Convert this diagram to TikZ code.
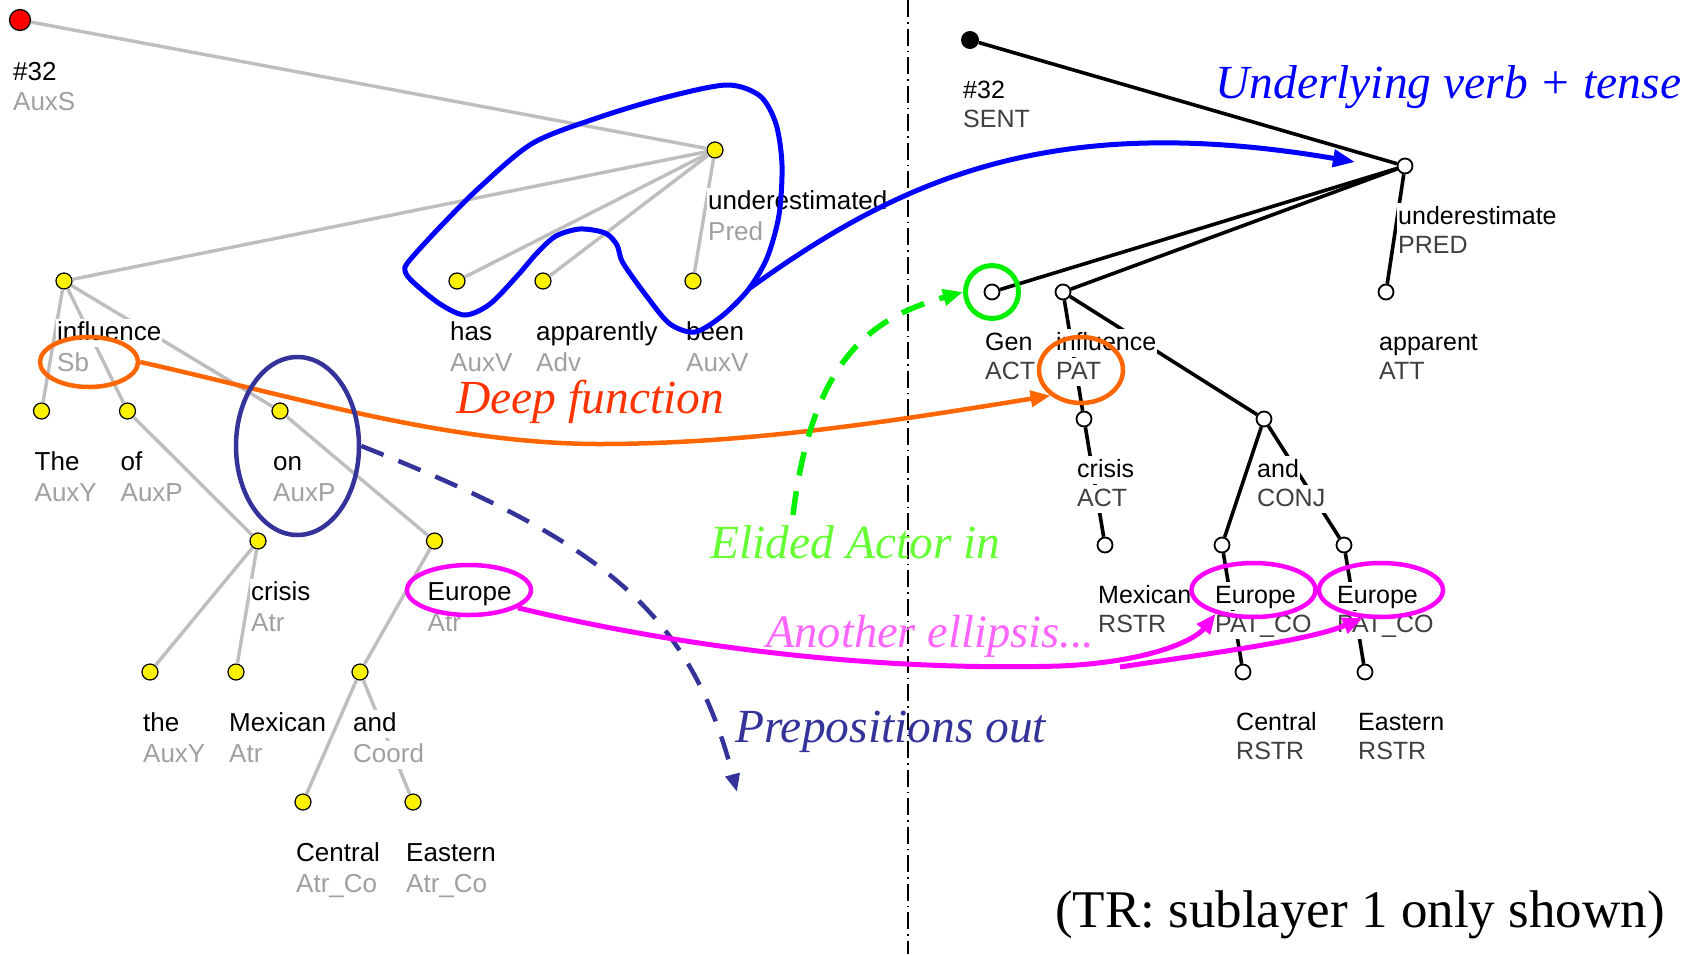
\documentclass[tikz,border=0pt]{standalone}
\usepackage{fontspec}
\setmainfont{Liberation Serif}
\newfontfamily\labfont{Liberation Sans}
\usetikzlibrary{arrows.meta,shapes.geometric}
\definecolor{edgegray}{HTML}{BEBEBE}
\definecolor{lfungray}{HTML}{A0A0A0}
\definecolor{rfungray}{HTML}{404040}
\definecolor{blueA}{HTML}{0000FF}
\definecolor{orangeA}{HTML}{FF6600}
\definecolor{orangeT}{HTML}{FF3300}
\definecolor{greenA}{HTML}{00F000}
\definecolor{greenT}{HTML}{66FF33}
\definecolor{navyA}{HTML}{333399}
\definecolor{pinkA}{HTML}{FF00FF}
\definecolor{pinkT}{HTML}{FF66FF}
\newcommand\leftlab[3]{%
  \node[lword] (#1-w) at ([shift={(-8,59)}]#1.center) {#2};
  \node[lfunc] (#1-f) at ([shift={(-8,90)}]#1.center) {#3};}
\newcommand\rightlab[3]{%
  \node[rword] (#1-w) at ([shift={(-8,58)}]#1.center) {#2};
  \node[rfunc] (#1-f) at ([shift={(-8,87)}]#1.center) {#3};}
\begin{document}
\begin{tikzpicture}[x=1pt,y=-1pt,
  ynode/.style={circle,draw=black,fill=yellow,minimum size=16pt,inner sep=0pt,line width=1.2pt},
  rootnode/.style={circle,draw=black,fill=red,minimum size=21pt,inner sep=0pt,line width=1.2pt},
  wnode/.style={circle,draw=black,fill=white,minimum size=15pt,inner sep=0pt,line width=1.8pt},
  bnode/.style={circle,fill=black,minimum size=18pt,inner sep=0pt},
  ledge/.style={draw=edgegray,line width=3.4pt},
  redge/.style={draw=black,line width=3.6pt},
  lab/.style={anchor=base west,fill=white,inner xsep=1pt,inner ysep=2pt,text height=19pt,text depth=5pt},
  lword/.style={lab,font={\labfont\fontsize{26pt}{26pt}\selectfont},text=black},
  lfunc/.style={lab,font={\labfont\fontsize{26pt}{26pt}\selectfont},text=lfungray},
  rword/.style={lab,font={\labfont\fontsize{25pt}{25pt}\selectfont},text=black},
  rfunc/.style={lab,font={\labfont\fontsize{25pt}{25pt}\selectfont},text=rfungray},
  anno/.style={anchor=base west,inner sep=0pt,font={\itshape\fontsize{47.5pt}{48pt}\selectfont}},
  ring/.style={ellipse,inner sep=0pt,line width=4.5pt},
  bigtip/.style={-{Triangle[length=20pt,width=16pt]}},
]
\useasboundingbox (0,0) rectangle (1698,954);
\fill[white] (0,0) rectangle (1698,954);

% divider
\coordinate (divtop) at (908,0);
\coordinate (divbot) at (908,954);
\draw[line width=1.5pt,dash pattern=on 17pt off 5pt on 1.5pt off 5pt] (divtop) -- (divbot);

% ---------- left (analytical) tree nodes ----------
\node[rootnode] (Lroot) at (20,20) {};
\node[ynode] (Lpred) at (715,150) {};
\node[ynode] (Linfl) at (64,281) {};
\node[ynode] (Lhas) at (457,281) {};
\node[ynode] (Lapp) at (543,281) {};
\node[ynode] (Lbeen) at (693,281) {};
\node[ynode] (LThe) at (41.5,411) {};
\node[ynode] (Lof) at (127.5,411) {};
\node[ynode] (Lon) at (280,411) {};
\node[ynode] (Lcrisis) at (258,541) {};
\node[ynode] (Leur) at (434.5,541) {};
\node[ynode] (Lthe) at (150,672) {};
\node[ynode] (Lmex) at (236,672) {};
\node[ynode] (Land) at (360,672) {};
\node[ynode] (Lcen) at (303,802) {};
\node[ynode] (Least) at (413,802) {};

% ---------- right (tectogrammatical) tree nodes ----------
\node[bnode] (Rroot) at (970,40) {};
\node[wnode] (Rpred) at (1405,166) {};
\node[wnode] (Rgen) at (992,292) {};
\node[wnode] (Rinfl) at (1063,292) {};
\node[wnode] (Rapp) at (1386,292) {};
\node[wnode] (Rcrisis) at (1084,419) {};
\node[wnode] (Rand) at (1264,419) {};
\node[wnode] (Rmex) at (1105,545) {};
\node[wnode] (Reur1) at (1222,545) {};
\node[wnode] (Reur2) at (1344,545) {};
\node[wnode] (Rcen) at (1243,672) {};
\node[wnode] (Reast) at (1365,672) {};

% ---------- edges ----------
\draw[ledge] (Lroot) -- (Lpred);
\draw[ledge] (Lpred) -- (Linfl);
\draw[ledge] (Lpred) -- (Lhas);
\draw[ledge] (Lpred) -- (Lapp);
\draw[ledge] (Lpred) -- (Lbeen);
\draw[ledge] (Linfl) -- (LThe);
\draw[ledge] (Linfl) -- (Lof);
\draw[ledge] (Linfl) -- (Lon);
\draw[ledge] (Lof) -- (Lcrisis);
\draw[ledge] (Lon) -- (Leur);
\draw[ledge] (Lcrisis) -- (Lthe);
\draw[ledge] (Lcrisis) -- (Lmex);
\draw[ledge] (Leur) -- (Land);
\draw[ledge] (Land) -- (Lcen);
\draw[ledge] (Land) -- (Least);

\draw[redge] (Rroot) -- (Rpred);
\draw[redge] (Rpred) -- (Rgen);
\draw[redge] (Rpred) -- (Rinfl);
\draw[redge] (Rpred) -- (Rapp);
\draw[redge] (Rinfl) -- (Rcrisis);
\draw[redge] (Rinfl) -- (Rand);
\draw[redge] (Rcrisis) -- (Rmex);
\draw[redge] (Rand) -- (Reur1);
\draw[redge] (Rand) -- (Reur2);
\draw[redge] (Reur1) -- (Rcen);
\draw[redge] (Reur2) -- (Reast);

% ---------- labels ----------
\node[lword] (Lroot-w) at ([shift={(-8,60)}]Lroot.center) {\#32};
\node[lfunc] (Lroot-f) at ([shift={(-8,90)}]Lroot.center) {AuxS};
\leftlab{Lpred}{underestimated}{Pred}
\leftlab{Linfl}{influence}{Sb}
\leftlab{Lhas}{has}{AuxV}
\leftlab{Lapp}{apparently}{Adv}
\leftlab{Lbeen}{been}{AuxV}
\leftlab{LThe}{The}{AuxY}
\leftlab{Lof}{of}{AuxP}
\leftlab{Lon}{on}{AuxP}
\leftlab{Lcrisis}{crisis}{Atr}
\leftlab{Leur}{Europe}{Atr}
\leftlab{Lthe}{the}{AuxY}
\leftlab{Lmex}{Mexican}{Atr}
\leftlab{Land}{and}{Coord}
\leftlab{Lcen}{Central}{Atr\_Co}
\leftlab{Least}{Eastern}{Atr\_Co}

\rightlab{Rroot}{\#32}{SENT}
\rightlab{Rpred}{underestimate}{PRED}
\rightlab{Rgen}{Gen}{ACT}
\rightlab{Rinfl}{influence}{PAT}
\rightlab{Rapp}{apparent}{ATT}
\rightlab{Rcrisis}{crisis}{ACT}
\rightlab{Rand}{and}{CONJ}
\rightlab{Rmex}{Mexican}{RSTR}
\rightlab{Reur1}{Europe}{PAT\_CO}
\rightlab{Reur2}{Europe}{PAT\_CO}
\rightlab{Rcen}{Central}{RSTR}
\rightlab{Reast}{Eastern}{RSTR}

% ---------- annotations ----------
% blue: underlying verb + tense
\draw[blueA,line width=5pt] plot[smooth cycle,tension=0.5] coordinates {
 (727,85) (760,96) (776,124) (782,165) (779,215) (767,258) (748,290) (722,316)
 (695,332) (670,324) (648,298) (623,263) (617,245) (605,233) (580,229) (556,236)
 (537,253) (518,275) (490,304) (465,315) (440,304) (413,282) (405,271) (409,261)
 (440,227) (480,187) (533,143) (600,117) (667,97)};
\coordinate (loopout) at (750,288);
\coordinate (blueend) at (1355,162);
\draw[blueA,line width=5pt,-{Triangle[length=22pt,width=17pt]}] (loopout) .. controls (900,180) and (1050,110) .. (blueend);
\node[anno,text=blueA] (tUnder) at (1215,98) {Underlying verb + tense};

% orange: deep function
\node[ring,draw=orangeA,minimum width=98pt,minimum height=50pt] (sbring) at (89,362) {};
\node[ring,draw=orangeA,minimum width=84pt,minimum height=66pt] (patring) at (1081,370) {};
\coordinate (orangemid) at (600,444);
\draw[orangeA,line width=4.5pt,bigtip] (sbring.east) .. controls (300,398) and (450,444) .. (orangemid)
  .. controls (750,444) and (900,420) .. (patring.220);
\node[anno,text=orangeT] (tDeep) at (456,413) {Deep function};

% navy: prepositions out
\node[ring,draw=navyA,minimum width=123pt,minimum height=178pt] (onring) at (297.5,446) {};
\coordinate (prepend) at (737,792);
\draw[navyA,line width=4.5pt,dash pattern=on 24pt off 16pt,-{Triangle[length=18pt,width=14pt]}]
  (onring.east) .. controls (600,540) and (690,610) .. (prepend);
\node[anno,text=navyA] (tPrep) at (735,742) {Prepositions out};

% green: elided actor
\node[circle,draw=greenA,line width=5pt,minimum size=53pt,inner sep=0pt] (genring) at (992,292) {};
\coordinate (greenstart) at (793,515);
\draw[greenA,line width=5.5pt,dash pattern=on 24pt off 16pt,-{Triangle[length=20pt,width=16pt]}]
  (greenstart) .. controls (812,360) and (870,318) .. (genring.west);
\node[anno,text=greenT] (tElided) at (710,558) {Elided Actor in};

% pink: another ellipsis
\node[ring,draw=pinkA,minimum width=124pt,minimum height=50pt] (eurring) at (469,590) {};
\node[ring,draw=pinkA,minimum width=124pt,minimum height=54pt] (eur1ring) at (1253.5,590) {};
\node[ring,draw=pinkA,minimum width=124pt,minimum height=54pt] (eur2ring) at (1381,590) {};
\coordinate (pinkmid) at (1060,666);
\coordinate (pinkfork) at (1120,667);
\draw[pinkA,line width=5pt,-{Triangle[length=20pt,width=16pt]}]
  (eurring.-20) .. controls (650,640) and (850,672) .. (pinkmid)
  .. controls (1150,662) and (1195,640) .. (eur1ring.212);
\draw[pinkA,line width=5pt,-{Triangle[length=20pt,width=16pt]}]
  (pinkfork) .. controls (1220,652) and (1310,640) .. (eur2ring.237);
\node[anno,text=pinkT,font={\itshape\fontsize{46.5pt}{48pt}\selectfont}] (tAnother) at (766,647) {Another ellipsis...};

% note
\node[anchor=base west,inner sep=0pt,font={\fontsize{53pt}{55pt}\selectfont}] (tNote) at (1055,927) {(TR: sublayer 1 only shown)};
\end{tikzpicture}
\end{document}
